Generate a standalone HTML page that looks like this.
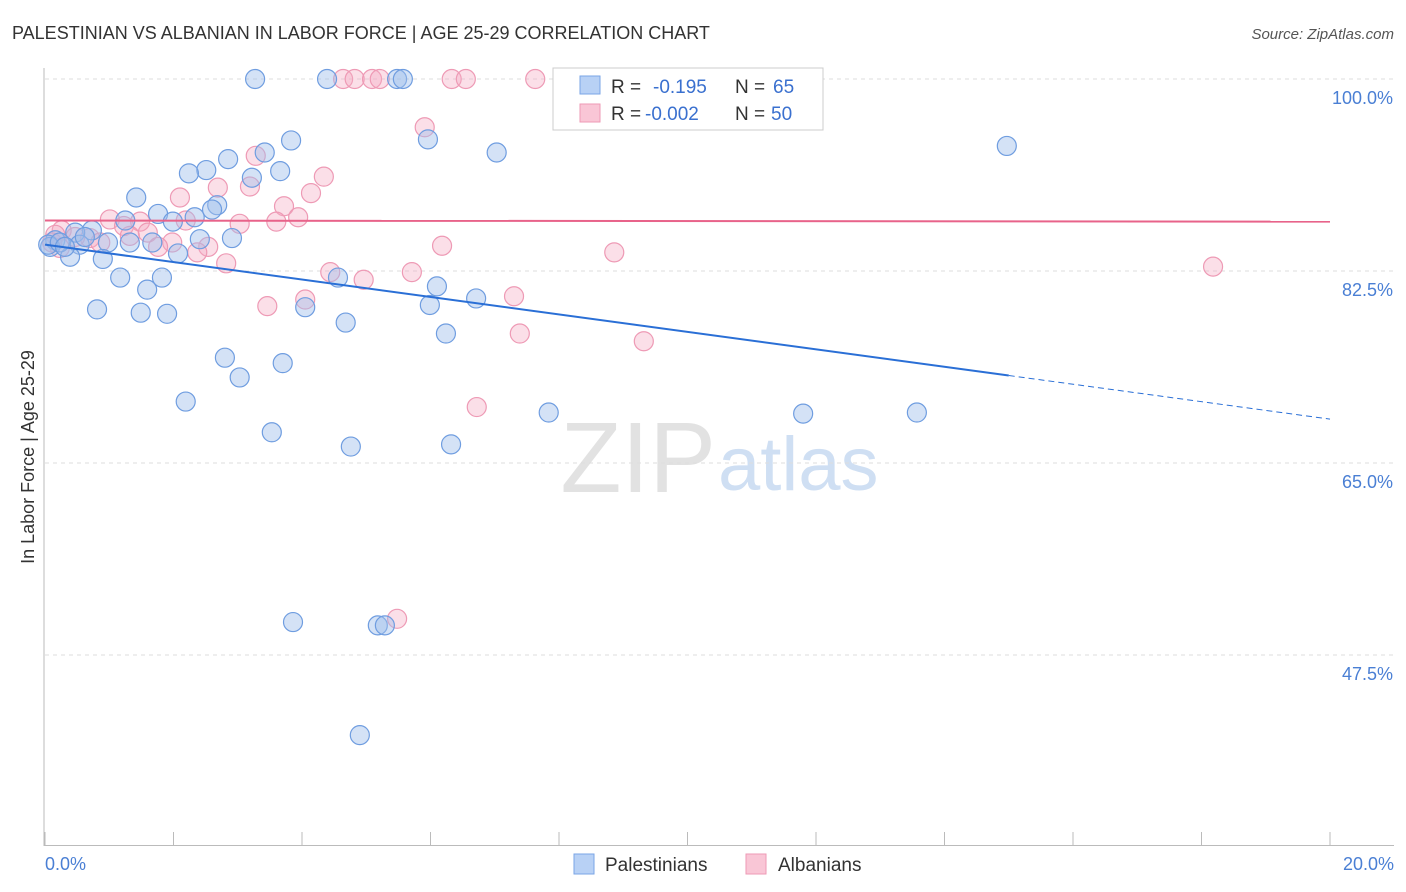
<!DOCTYPE html>
<html><head><meta charset="utf-8">
<style>
body{margin:0;background:#fff;font-family:"Liberation Sans",sans-serif;}
#wrap{position:relative;width:1406px;height:892px;overflow:hidden;}
svg text{font-family:"Liberation Sans",sans-serif;}
</style></head>
<body>
<div id="wrap">
<svg id="chart" width="1406" height="892">
<text x="12" y="39" font-size="18" fill="#333">PALESTINIAN VS ALBANIAN IN LABOR FORCE | AGE 25-29 CORRELATION CHART</text>
<text x="1394" y="39" font-size="15" fill="#555" font-style="italic" text-anchor="end">Source: ZipAtlas.com</text>
<text x="716" y="492" font-size="100" fill="#e2e2e2" text-anchor="end" font-family="Liberation Serif">ZIP</text>
<text x="718" y="490" font-size="76" fill="#cfdff3">atlas</text>
<g id="grid"></g>
<line x1="44" y1="68" x2="44" y2="846" stroke="#bbb"/>
<line x1="44" y1="845.5" x2="1394" y2="845.5" stroke="#bbb"/>
<text transform="translate(34,457) rotate(-90)" font-size="18" fill="#333" text-anchor="middle">In Labor Force | Age 25-29</text>
<text x="45" y="870" font-size="18" fill="#4a7fd4">0.0%</text>
<text x="1394" y="870" font-size="18" fill="#4a7fd4" text-anchor="end">20.0%</text>
<g id="marks"></g>
<g>
<rect x="553" y="68" width="270" height="62" fill="#fff" stroke="#ccc"/>
<rect x="580" y="76" width="20" height="18" fill="#b8d1f5" stroke="#7aa5e6"/>
<rect x="580" y="104" width="20" height="18" fill="#f9c6d6" stroke="#ee9ab5"/>
<text x="611" y="93" font-size="19" fill="#333">R = </text><text x="653" y="93" font-size="19" fill="#3a70cf">-0.195</text>
<text x="735" y="93" font-size="19" fill="#333">N = </text><text x="773" y="93" font-size="19" fill="#3a70cf">65</text>
<text x="611" y="120" font-size="19" fill="#333">R = </text><text x="645" y="120" font-size="19" fill="#3a70cf">-0.002</text>
<text x="735" y="120" font-size="19" fill="#333">N = </text><text x="771" y="120" font-size="19" fill="#3a70cf">50</text>
</g>
<g>
<rect x="574" y="854" width="20" height="20" fill="#b8d1f5" stroke="#7aa5e6"/>
<text x="605" y="871" font-size="19" fill="#333">Palestinians</text>
<rect x="746" y="854" width="20" height="20" fill="#f9c6d6" stroke="#ee9ab5"/>
<text x="778" y="871" font-size="19" fill="#333">Albanians</text>
</g>
</svg>
</div>
<script>
const yTicks=[100,82.5,65,47.5];
const yTickLabels=["100.0%","82.5%","65.0%","47.5%"];
const xTicks=[0,2,4,6,8,10,12,14,16,18,20];
const blueX=[3.27,4.39,5.48,5.57,3.42,3.83,5.96,7.03,14.97,2.85,2.51,2.24,3.22,3.66,1.42,2.68,2.60,2.33,1.76,1.99,1.25,0.73,0.47,0.98,1.32,1.67,2.41,2.91,2.07,0.54,0.16,0.08,0.39,0.90,1.17,1.59,1.82,4.56,6.10,6.71,0.81,1.49,1.90,4.05,5.99,4.68,6.24,2.80,3.70,3.03,2.19,7.84,11.80,13.57,3.53,4.76,6.32,3.86,5.18,5.29,4.90,0.05,0.23,0.31,0.62];
const blueY=[100,100,100,100,93.3,94.4,94.5,93.3,93.9,92.7,91.7,91.4,91.0,91.6,89.2,88.5,88.1,87.4,87.7,87.0,87.1,86.2,86.0,85.1,85.1,85.1,85.4,85.5,84.1,84.9,85.3,84.7,83.8,83.6,81.9,80.8,81.9,81.9,81.1,80.0,79.0,78.7,78.6,79.2,79.4,77.8,76.8,74.6,74.1,72.8,70.6,69.6,69.5,69.6,67.8,66.5,66.7,50.5,50.2,50.2,40.2,84.9,85.1,84.7,85.6];
const pinkX=[4.64,4.82,5.09,5.21,6.33,6.55,7.63,8.20,5.91,3.28,4.34,4.14,2.10,2.69,3.19,3.72,3.94,3.60,3.03,2.19,1.01,1.48,1.23,1.60,0.26,0.16,0.70,1.32,1.98,1.76,2.54,2.37,2.82,6.18,8.86,4.44,4.96,5.71,4.05,3.46,7.30,7.39,9.32,6.72,5.48,18.18,0.23,0.47,0.86,0.11];
const pinkY=[100,100,100,100,100,100,100,100,95.6,93.0,91.1,89.6,89.2,90.1,90.2,88.4,87.4,87.0,86.8,87.1,87.2,87.0,86.6,86.0,86.2,85.8,85.5,85.7,85.1,84.7,84.7,84.2,83.2,84.8,84.2,82.4,81.7,82.4,79.9,79.3,80.2,76.8,76.1,70.1,50.8,82.9,84.6,85.6,85.1,85.1];
const blueTrend=[84.9,-0.795];
const pinkTrend=[87.1,-0.005];
const blueSolidEnd=15;

const NS="http://www.w3.org/2000/svg";
const sx=v=>45+v/20*1285;
const sy=v=>79+(100-v)*192/17.5;
function mk(t,a,p){const e=document.createElementNS(NS,t);for(const k in a)e.setAttribute(k,a[k]);p.appendChild(e);return e;}
const grid=document.getElementById('grid'), marks=document.getElementById('marks');
yTicks.forEach((t,i)=>{
  const l=mk('line',{x1:45,x2:1394,y1:sy(t),y2:sy(t),stroke:'#ddd','stroke-dasharray':'4,4'},grid);
  
  
  const tx=mk('text',{x:1393,y:sy(t)+25,'font-size':18,fill:'#4a7fd4','text-anchor':'end'},grid);
  tx.textContent=yTickLabels[i];
  
  
});
xTicks.forEach(t=>{
  const l=mk('line',{x1:sx(t),x2:sx(t),y1:832,y2:845,stroke:'#bbb'},grid);
  
  
});
function pts(X,Y,fill,stroke,name){
  X.forEach((x,i)=>{
    const c=mk('circle',{cx:sx(x),cy:sy(Y[i]),r:9.5,fill:fill,stroke:stroke,'stroke-width':1.2},marks);
    
    
  });
}
pts(pinkX,pinkY,'rgba(245,170,195,0.38)','#ee9ab5','albanian-point');
pts(blueX,blueY,'rgba(160,190,235,0.45)','#6f9de0','palestinian-point');
const bl=mk('line',{x1:sx(0),y1:sy(blueTrend[0]),x2:sx(blueSolidEnd),y2:sy(blueTrend[0]+blueTrend[1]*blueSolidEnd),stroke:'#2a6fd6','stroke-width':2},marks);


const bd=mk('line',{x1:sx(blueSolidEnd),y1:sy(blueTrend[0]+blueTrend[1]*blueSolidEnd),x2:sx(20),y2:sy(blueTrend[0]+blueTrend[1]*20),stroke:'#2a6fd6','stroke-width':1,'stroke-dasharray':'6,4'},marks);


const pl=mk('line',{x1:sx(0),y1:sy(pinkTrend[0]),x2:sx(20),y2:sy(pinkTrend[0]+pinkTrend[1]*20),stroke:'#e8638a','stroke-width':2},marks);


</script>
</body></html>
